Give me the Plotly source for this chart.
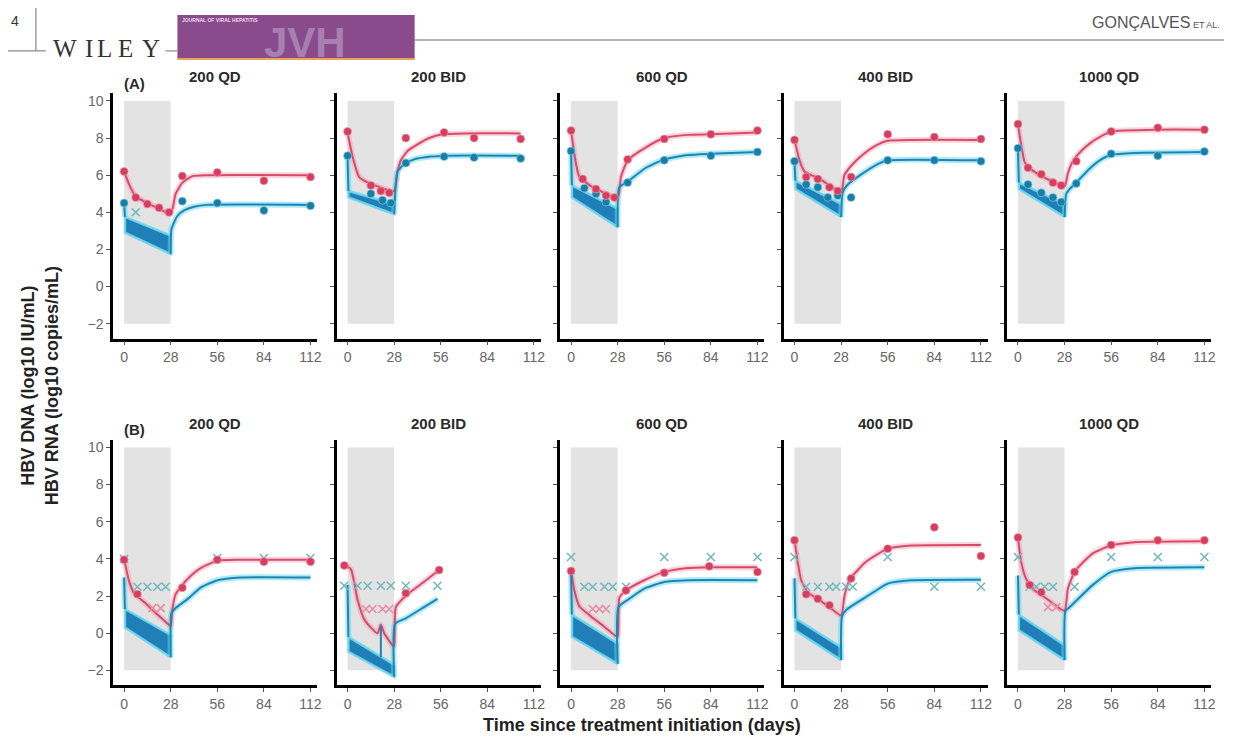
import plotly.graph_objects as go

W, H = 1234, 743

# ---------------- data (day, log10 value) ----------------
DOSES = ["200 QD", "200 BID", "600 QD", "400 BID", "1000 QD"]
X_TICKS = [0, 28, 56, 84, 112]
Y_TICKS = [-2, 0, 2, 4, 6, 8, 10]
Y_TICKTEXT = ["\u22122", "0", "2", "4", "6", "8", "10"]

# ----- Row A -----
A1_DNA_OBS = [(0, 6.2), (7, 4.8), (14, 4.45), (21, 4.25), (27, 4.0), (35, 5.95), (56, 6.15), (84, 5.7), (112, 5.9)]
A1_RNA_OBS = [(0, 4.5), (35, 4.6), (56, 4.5), (84, 4.1), (112, 4.35)]
A1_DNA_BLQ = []
A1_RNA_BLQ = [(7, 4.0)]
A1_DNA_FIT = [(0, 6.2), (3, 5.5), (7, 4.85), (14, 4.5), (21, 4.2), (28, 3.9), (31, 5.0), (35, 5.6), (41, 5.95), (50, 6.0), (112, 6.0)]
A1_RNA_PRE = [(0, 4.5), (0.5, 3.75)]
A1_BAND_TOP = [(0.5, 3.75), (28, 2.75)]
A1_BAND_BOT = [(0.5, 2.9), (28, 1.75)]
A1_RNA_POST = [(28, 1.75), (28.5, 3.1), (32, 3.8), (36, 4.1), (42, 4.3), (50, 4.4), (112, 4.4)]

A2_DNA_OBS = [(0, 8.35), (14, 5.45), (20, 5.15), (25, 5.05), (35, 8.0), (58, 8.3), (76, 8.0), (104, 7.95)]
A2_RNA_OBS = [(0, 7.05), (14, 5.0), (21, 4.65), (26, 4.5), (35, 6.65), (58, 7.0), (76, 6.95), (104, 6.9)]
A2_DNA_BLQ = []
A2_RNA_BLQ = []
A2_DNA_FIT = [(0, 8.3), (3, 7.0), (7, 5.9), (15, 5.5), (28, 5.15), (30, 6.2), (32, 6.8), (36, 7.3), (41, 7.6), (49, 8.0), (57, 8.2), (70, 8.25), (104, 8.25)]
A2_RNA_PRE = [(0, 7.0), (0.5, 5.15)]
A2_BAND_TOP = [(0.5, 5.15), (28, 4.45)]
A2_BAND_BOT = [(0.5, 4.8), (28, 3.9)]
A2_RNA_POST = [(28, 3.9), (29, 5.6), (30, 6.2), (34, 6.6), (40, 6.85), (50, 7.0), (60, 7.05), (104, 7.05)]

A3_DNA_OBS = [(0, 8.4), (7, 5.8), (15, 5.25), (21, 4.9), (26, 4.8), (34, 6.85), (56, 7.95), (84, 8.2), (112, 8.4)]
A3_RNA_OBS = [(0, 7.3), (8, 5.3), (15, 5.0), (21, 4.55), (34, 5.6), (56, 6.8), (84, 7.05), (112, 7.25)]
A3_DNA_BLQ = []
A3_RNA_BLQ = []
A3_DNA_FIT = [(0, 8.4), (3, 6.6), (5, 5.9), (13, 5.35), (20, 5.05), (28, 4.75), (30, 5.9), (34, 6.8), (45, 7.5), (56, 8.0), (70, 8.17), (84, 8.2), (112, 8.3)]
A3_RNA_PRE = [(0, 7.3), (0.5, 5.45)]
A3_BAND_TOP = [(0.5, 5.45), (28, 4.2)]
A3_BAND_BOT = [(0.5, 4.8), (28, 3.2)]
A3_RNA_POST = [(28, 3.2), (29, 5.35), (34, 5.65), (45, 6.4), (56, 6.85), (70, 7.08), (84, 7.15), (112, 7.25)]

A4_DNA_OBS = [(0, 7.9), (7, 5.9), (14, 5.8), (21, 5.35), (26, 5.15), (34, 5.9), (56, 8.2), (84, 8.05), (112, 7.95)]
A4_RNA_OBS = [(0, 6.75), (7, 5.5), (14, 5.35), (20, 4.8), (26, 4.9), (34, 4.8), (56, 6.8), (84, 6.8), (112, 6.75)]
A4_DNA_BLQ = []
A4_RNA_BLQ = []
A4_DNA_FIT = [(0, 7.9), (3, 6.8), (6, 6.2), (15, 5.8), (22, 5.4), (28, 5.05), (30, 6.0), (35, 6.6), (41, 7.1), (48, 7.55), (56, 7.85), (70, 7.9), (112, 7.9)]
A4_RNA_PRE = [(0, 6.75), (0.5, 5.7)]
A4_BAND_TOP = [(0.5, 5.7), (28, 4.45)]
A4_BAND_BOT = [(0.5, 5.25), (28, 3.75)]
A4_RNA_POST = [(28, 3.75), (29, 5.1), (32, 5.5), (41, 6.1), (50, 6.6), (56, 6.8), (112, 6.8)]

A5_DNA_OBS = [(0, 8.75), (6, 6.4), (14, 6.05), (21, 5.6), (26, 5.45), (35, 6.75), (56, 8.35), (84, 8.55), (112, 8.45)]
A5_RNA_OBS = [(0, 7.45), (6, 5.5), (14, 5.05), (21, 4.8), (26, 4.55), (35, 5.55), (56, 7.15), (84, 7.05), (112, 7.27)]
A5_DNA_BLQ = []
A5_RNA_BLQ = []
A5_DNA_FIT = [(0, 8.7), (2, 7.6), (4, 6.7), (8, 6.3), (14, 5.95), (21, 5.65), (28, 5.38), (30, 6.1), (33, 6.75), (38, 7.3), (43, 7.7), (50, 8.1), (56, 8.35), (84, 8.45), (112, 8.45)]
A5_RNA_PRE = [(0, 7.4), (0.5, 5.6)]
A5_BAND_TOP = [(0.5, 5.6), (28, 4.45)]
A5_BAND_BOT = [(0.5, 5.25), (28, 3.75)]
A5_RNA_POST = [(28, 3.75), (29, 5.0), (31, 5.25), (35, 5.6), (43, 6.35), (50, 6.85), (56, 7.1), (70, 7.2), (112, 7.25)]

# ----- Row B -----
B1_DNA_OBS = [(0, 3.95), (8, 2.1), (35, 2.45), (56, 3.95), (84, 3.85), (112, 3.85)]
B1_RNA_OBS = []
B1_DNA_BLQ = [(17, 1.35), (22, 1.35)]
B1_RNA_BLQ = [(0, 4.0), (8, 2.5), (14, 2.5), (20, 2.5), (25, 2.5), (56, 4.05), (84, 4.05), (112, 4.05)]
B1_DNA_FIT = [(0, 4.0), (3, 2.8), (6, 2.15), (13, 1.6), (20, 1.0), (27, 0.45), (28, 0.35), (29, 1.3), (31, 2.1), (35, 2.6), (39, 3.0), (46, 3.5), (56, 3.9), (70, 3.95), (112, 3.95)]
B1_RNA_PRE = [(0, 3.0), (0.5, 1.3)]
B1_BAND_TOP = [(0.5, 1.3), (28, -0.1)]
B1_BAND_BOT = [(0.5, 0.3), (28, -1.3)]
B1_RNA_POST = [(28, -1.3), (28.5, 1.1), (31, 1.35), (39, 1.9), (46, 2.45), (56, 2.85), (70, 3.0), (112, 3.0)]

B2_DNA_OBS = [(-2, 3.65), (35, 2.15), (55, 3.4)]
B2_RNA_OBS = []
B2_DNA_BLQ = [(11, 1.3), (15, 1.3), (21, 1.3), (25, 1.3)]
B2_RNA_BLQ = [(-2, 2.55), (6, 2.55), (12, 2.55), (20, 2.55), (26, 2.55), (35, 2.55), (54, 2.55)]
B2_DNA_FIT = [(-2, 3.65), (2, 3.45), (6, 1.8), (10, 0.75), (14, 0.3), (18, 0.0), (20, 0.45), (22, 0.0), (27, -0.65), (28, -0.7), (29, 1.4), (36, 2.1), (45, 2.7), (55, 3.4)]
B2_RNA_PRE = [(0, 2.6), (0.5, -0.2)]
B2_BAND_TOP = [(0.5, -0.2), (28, -1.7)]
B2_BAND_BOT = [(0.5, -1.0), (28, -2.35)]
B2_RNA_SPIKE = [(20, -1.3), (20, 0.4)]
B2_RNA_POST = [(28, -2.35), (28.5, 0.5), (35, 0.8), (45, 1.35), (54, 1.85)]

B3_DNA_OBS = [(0, 3.35), (33, 2.3), (56, 3.25), (83, 3.6), (112, 3.3)]
B3_RNA_OBS = []
B3_DNA_BLQ = [(13, 1.3), (17, 1.3), (21, 1.3)]
B3_RNA_BLQ = [(0, 4.1), (8, 2.5), (13, 2.5), (20, 2.5), (25, 2.5), (33, 2.5), (56, 4.1), (84, 4.1), (112, 4.1)]
B3_DNA_FIT = [(0, 3.35), (2, 2.3), (5, 1.45), (12, 0.9), (20, 0.35), (26, -0.1), (28, -0.2), (29, 1.9), (33, 2.3), (44, 2.85), (56, 3.3), (69, 3.5), (84, 3.55), (112, 3.55)]
B3_RNA_PRE = [(0, 3.3), (0.5, 1.0)]
B3_BAND_TOP = [(0.5, 1.0), (28, -0.55)]
B3_BAND_BOT = [(0.5, -0.2), (28, -1.65)]
B3_RNA_POST = [(28, -1.65), (28.5, 1.4), (35, 1.85), (44, 2.4), (56, 2.75), (70, 2.85), (112, 2.85)]

B4_DNA_OBS = [(0, 5.0), (7, 2.1), (14, 1.85), (21, 1.5), (34, 2.95), (56, 4.55), (84, 5.7), (112, 4.15)]
B4_RNA_OBS = []
B4_DNA_BLQ = []
B4_RNA_BLQ = [(0, 4.1), (7, 2.5), (14, 2.5), (21, 2.5), (25, 2.5), (31, 2.5), (35, 2.5), (56, 4.1), (84, 2.5), (112, 2.5)]
B4_DNA_FIT = [(0, 5.0), (2, 3.8), (4, 2.85), (8, 2.2), (14, 1.85), (21, 1.4), (28, 0.95), (30, 2.0), (33, 2.85), (38, 3.4), (43, 3.85), (56, 4.55), (70, 4.72), (112, 4.75)]
B4_RNA_PRE = [(0, 2.95), (0.5, 0.8)]
B4_BAND_TOP = [(0.5, 0.8), (28, -0.75)]
B4_BAND_BOT = [(0.5, 0.15), (28, -1.45)]
B4_RNA_POST = [(28, -1.45), (28.5, 0.9), (31, 1.25), (43, 1.95), (56, 2.67), (70, 2.85), (112, 2.88)]

B5_DNA_OBS = [(0, 5.15), (7, 2.6), (14, 2.2), (34, 3.3), (56, 4.75), (84, 5.0), (112, 5.0)]
B5_RNA_OBS = []
B5_DNA_BLQ = [(18, 1.4), (23, 1.4)]
B5_RNA_BLQ = [(0, 4.1), (7, 2.5), (11, 2.5), (16, 2.5), (21, 2.5), (34, 2.5), (56, 4.1), (84, 4.1), (112, 4.1)]
B5_DNA_FIT = [(0, 5.1), (2, 3.8), (5, 2.9), (10, 2.3), (15, 2.0), (21, 1.6), (28, 1.2), (30, 2.4), (34, 3.3), (40, 3.9), (45, 4.3), (56, 4.73), (70, 4.9), (112, 4.95)]
B5_RNA_PRE = [(0, 3.1), (0.5, 1.0)]
B5_BAND_TOP = [(0.5, 1.0), (28, -0.65)]
B5_BAND_BOT = [(0.5, 0.15), (28, -1.45)]
B5_RNA_POST = [(28, -1.45), (28.5, 1.2), (31, 1.4), (45, 2.6), (56, 3.3), (70, 3.5), (112, 3.55)]

PANELS = [
    dict(dna_obs=A1_DNA_OBS, rna_obs=A1_RNA_OBS, dna_blq=A1_DNA_BLQ, rna_blq=A1_RNA_BLQ, dna_fit=A1_DNA_FIT, rna_pre=A1_RNA_PRE, top=A1_BAND_TOP, bot=A1_BAND_BOT, rna_post=A1_RNA_POST),
    dict(dna_obs=A2_DNA_OBS, rna_obs=A2_RNA_OBS, dna_blq=A2_DNA_BLQ, rna_blq=A2_RNA_BLQ, dna_fit=A2_DNA_FIT, rna_pre=A2_RNA_PRE, top=A2_BAND_TOP, bot=A2_BAND_BOT, rna_post=A2_RNA_POST),
    dict(dna_obs=A3_DNA_OBS, rna_obs=A3_RNA_OBS, dna_blq=A3_DNA_BLQ, rna_blq=A3_RNA_BLQ, dna_fit=A3_DNA_FIT, rna_pre=A3_RNA_PRE, top=A3_BAND_TOP, bot=A3_BAND_BOT, rna_post=A3_RNA_POST),
    dict(dna_obs=A4_DNA_OBS, rna_obs=A4_RNA_OBS, dna_blq=A4_DNA_BLQ, rna_blq=A4_RNA_BLQ, dna_fit=A4_DNA_FIT, rna_pre=A4_RNA_PRE, top=A4_BAND_TOP, bot=A4_BAND_BOT, rna_post=A4_RNA_POST),
    dict(dna_obs=A5_DNA_OBS, rna_obs=A5_RNA_OBS, dna_blq=A5_DNA_BLQ, rna_blq=A5_RNA_BLQ, dna_fit=A5_DNA_FIT, rna_pre=A5_RNA_PRE, top=A5_BAND_TOP, bot=A5_BAND_BOT, rna_post=A5_RNA_POST),
    dict(dna_obs=B1_DNA_OBS, rna_obs=B1_RNA_OBS, dna_blq=B1_DNA_BLQ, rna_blq=B1_RNA_BLQ, dna_fit=B1_DNA_FIT, rna_pre=B1_RNA_PRE, top=B1_BAND_TOP, bot=B1_BAND_BOT, rna_post=B1_RNA_POST),
    dict(dna_obs=B2_DNA_OBS, rna_obs=B2_RNA_OBS, dna_blq=B2_DNA_BLQ, rna_blq=B2_RNA_BLQ, dna_fit=B2_DNA_FIT, rna_pre=B2_RNA_PRE, top=B2_BAND_TOP, bot=B2_BAND_BOT, rna_post=B2_RNA_POST, spike=B2_RNA_SPIKE),
    dict(dna_obs=B3_DNA_OBS, rna_obs=B3_RNA_OBS, dna_blq=B3_DNA_BLQ, rna_blq=B3_RNA_BLQ, dna_fit=B3_DNA_FIT, rna_pre=B3_RNA_PRE, top=B3_BAND_TOP, bot=B3_BAND_BOT, rna_post=B3_RNA_POST),
    dict(dna_obs=B4_DNA_OBS, rna_obs=B4_RNA_OBS, dna_blq=B4_DNA_BLQ, rna_blq=B4_RNA_BLQ, dna_fit=B4_DNA_FIT, rna_pre=B4_RNA_PRE, top=B4_BAND_TOP, bot=B4_BAND_BOT, rna_post=B4_RNA_POST),
    dict(dna_obs=B5_DNA_OBS, rna_obs=B5_RNA_OBS, dna_blq=B5_DNA_BLQ, rna_blq=B5_RNA_BLQ, dna_fit=B5_DNA_FIT, rna_pre=B5_RNA_PRE, top=B5_BAND_TOP, bot=B5_BAND_BOT, rna_post=B5_RNA_POST),
]

# ---------------- style ----------------
RED = "#d43f5f"
RED_LINE = "#d84a6b"
RED_HALO = "rgba(244,150,172,0.40)"
BLUE_DOT = "#1b7ca5"
BLUE_LINE = "#1f84b3"
BLUE_HALO = "rgba(95,215,240,0.50)"
BAND = "#1f7fb6"
TEAL_X = "#74b8bd"
PINK_X = "#e98ca4"
FONT = "Liberation Sans, Arial, sans-serif"
SERIF = "Liberation Serif, DejaVu Serif, serif"


def px(x):
    return x / W


def py(y):
    return 1 - y / H


def note(text, x, y, size, color="#222", family=FONT, xanchor="center", yanchor="middle", **kw):
    return dict(text=text, xref="paper", yref="paper", x=px(x), y=py(y), showarrow=False,
                xanchor=xanchor, yanchor=yanchor, font=dict(family=family, size=size, color=color), **kw)


fig = go.Figure()

ROW_Y = [(92.6, 338.0), (439.6, 685.1)]
DAY0 = [124.5 + 224.2 * i for i in range(5)]
PX_PER_DAY = 187.0 / 112.0
XR = (-6.6, 116.2)


def xs(pts):
    return [p[0] for p in pts]


def ys(pts):
    return [p[1] for p in pts]


layout = {}
shapes = []
annotations = []

for idx, P in enumerate(PANELS):
    row, col = divmod(idx, 5)
    n = idx + 1
    xa = "x" if n == 1 else f"x{n}"
    ya = "y" if n == 1 else f"y{n}"
    d0 = DAY0[col]
    left = d0 + XR[0] * PX_PER_DAY
    right = d0 + XR[1] * PX_PER_DAY
    top_px, bot_px = ROW_Y[row]
    layout[f"xaxis{n}"] = dict(
        domain=[px(left), px(right)], range=list(XR), anchor=ya,
        tickvals=X_TICKS, ticks="outside", ticklen=4, tickwidth=1, tickcolor="#555",
        showline=True, linecolor="black", linewidth=2.5, showgrid=False, zeroline=False,
        tickfont=dict(family=FONT, size=14, color="#666"),
    )
    layout[f"yaxis{n}"] = dict(
        domain=[py(bot_px), py(top_px)], range=[-2.8, 10.4], anchor=xa,
        tickvals=Y_TICKS, ticktext=Y_TICKTEXT, showticklabels=(col == 0),
        ticks="outside", ticklen=4, tickwidth=1, tickcolor="#555",
        showline=True, linecolor="black", linewidth=2.5, showgrid=False, zeroline=False,
        tickfont=dict(family=FONT, size=14, color="#666"),
    )
    # treatment period shading
    shapes.append(dict(type="rect", xref=xa, yref=ya, x0=0, x1=28, y0=-2, y1=10,
                       fillcolor="#e3e3e3", line=dict(width=0), layer="below"))
    # panel title
    annotations.append(note(f"<b>{DOSES[col]}</b>", (left + right) / 2, top_px - 17, 15, color="#2a2a2a"))

    # RNA sawtooth band (polygon from band edges)
    bx = xs(P["top"]) + xs(P["bot"])[::-1] + [P["top"][0][0]]
    by = ys(P["top"]) + ys(P["bot"])[::-1] + [P["top"][0][1]]
    fig.add_trace(go.Scatter(x=bx, y=by, xaxis=xa, yaxis=ya, mode="lines", fill="toself",
                             fillcolor=BAND, line=dict(color="rgba(110,215,240,0.9)", width=2.5),
                             hoverinfo="skip", showlegend=False))
    # halos
    fig.add_trace(go.Scatter(x=xs(P["dna_fit"]), y=ys(P["dna_fit"]), xaxis=xa, yaxis=ya, mode="lines",
                             line=dict(color=RED_HALO, width=6, shape="spline", smoothing=0.5),
                             hoverinfo="skip", showlegend=False))
    for key in ("rna_pre", "rna_post"):
        fig.add_trace(go.Scatter(x=xs(P[key]), y=ys(P[key]), xaxis=xa, yaxis=ya, mode="lines",
                                 line=dict(color=BLUE_HALO, width=6, shape="spline" if key == "rna_post" else "linear", smoothing=0.5),
                                 hoverinfo="skip", showlegend=False))
    # model lines
    fig.add_trace(go.Scatter(x=xs(P["dna_fit"]), y=ys(P["dna_fit"]), xaxis=xa, yaxis=ya, mode="lines",
                             line=dict(color=RED_LINE, width=2, shape="spline", smoothing=0.5),
                             hoverinfo="skip", showlegend=False))
    for key in ("rna_pre", "rna_post"):
        fig.add_trace(go.Scatter(x=xs(P[key]), y=ys(P[key]), xaxis=xa, yaxis=ya, mode="lines",
                                 line=dict(color=BLUE_LINE, width=2, shape="spline" if key == "rna_post" else "linear", smoothing=0.5),
                                 hoverinfo="skip", showlegend=False))
    if "spike" in P:
        fig.add_trace(go.Scatter(x=xs(P["spike"]), y=ys(P["spike"]), xaxis=xa, yaxis=ya, mode="lines",
                                 line=dict(color=BLUE_LINE, width=2), hoverinfo="skip", showlegend=False))
    # below-LLOQ crosses
    if P["rna_blq"]:
        fig.add_trace(go.Scatter(x=xs(P["rna_blq"]), y=ys(P["rna_blq"]), xaxis=xa, yaxis=ya, mode="markers",
                                 marker=dict(symbol="x-thin", size=8, line=dict(color=TEAL_X, width=1.6)),
                                 hoverinfo="skip", showlegend=False))
    if P["dna_blq"]:
        fig.add_trace(go.Scatter(x=xs(P["dna_blq"]), y=ys(P["dna_blq"]), xaxis=xa, yaxis=ya, mode="markers",
                                 marker=dict(symbol="x-thin", size=8, line=dict(color=PINK_X, width=1.6)),
                                 hoverinfo="skip", showlegend=False))
    # observations
    if P["rna_obs"]:
        fig.add_trace(go.Scatter(x=xs(P["rna_obs"]), y=ys(P["rna_obs"]), xaxis=xa, yaxis=ya, mode="markers",
                                 marker=dict(size=8, color=BLUE_DOT, line=dict(color="rgba(120,220,240,0.6)", width=1)),
                                 hoverinfo="skip", showlegend=False))
    if P["dna_obs"]:
        fig.add_trace(go.Scatter(x=xs(P["dna_obs"]), y=ys(P["dna_obs"]), xaxis=xa, yaxis=ya, mode="markers",
                                 marker=dict(size=8, color=RED, line=dict(color="rgba(245,160,180,0.6)", width=1)),
                                 hoverinfo="skip", showlegend=False))

# row labels
annotations.append(note("<b>(A)</b>", 135, 83, 15, color="#2a2a2a"))
annotations.append(note("<b>(B)</b>", 135, 429, 15, color="#2a2a2a"))
# axis titles
annotations.append(note("<b>HBV DNA (log10 IU/mL)<br>HBV RNA (log10 copies/mL)</b>", 40, 385, 18, textangle=-90))
annotations.append(note("<b>Time since treatment initiation (days)</b>", 644, 725, 18))

# ---------------- page header ----------------
shapes += [
    dict(type="line", xref="paper", yref="paper", x0=px(8), x1=px(46), y0=py(50), y1=py(50), line=dict(color="#888", width=1.2)),
    dict(type="line", xref="paper", yref="paper", x0=px(166), x1=px(178), y0=py(50), y1=py(50), line=dict(color="#888", width=1.2)),
    dict(type="line", xref="paper", yref="paper", x0=px(416), x1=px(1228), y0=py(39), y1=py(39), line=dict(color="#999", width=1.5)),
    dict(type="line", xref="paper", yref="paper", x0=px(36), x1=px(36), y0=py(7), y1=py(50), line=dict(color="#888", width=1.2)),
    dict(type="rect", xref="paper", yref="paper", x0=px(178), x1=px(416), y0=py(58), y1=py(14), fillcolor="#8a4b8c", line=dict(width=0)),
    dict(type="line", xref="paper", yref="paper", x0=px(178), x1=px(416), y0=py(58), y1=py(58), line=dict(color="#eba45a", width=2)),
]
annotations += [
    note("4", 15, 20, 14, color="#333"),
    note("W", 65, 48, 25, color="#333", family=SERIF),
    note("I", 89.5, 48, 25, color="#333", family=SERIF),
    note("L", 105, 48, 25, color="#333", family=SERIF),
    note("E", 126, 48, 25, color="#333", family=SERIF),
    note("Y", 151, 48, 25, color="#333", family=SERIF),
    note("<b>JVH</b>", 306, 42, 42, color="#a680b0"),
    note("<b>JOURNAL OF VIRAL HEPATITIS</b>", 181, 19, 5, color="#eadcec", xanchor="left"),
    note("GONÇALVES<span style='font-size:9px'> ET AL.</span>", 1226, 22, 16, color="#555", xanchor="right"),
]

fig.update_layout(
    width=W, height=H, margin=dict(l=0, r=0, t=0, b=0),
    paper_bgcolor="white", plot_bgcolor="white",
    shapes=shapes, annotations=annotations, showlegend=False, **layout,
)

fig.write_html("out.html")
